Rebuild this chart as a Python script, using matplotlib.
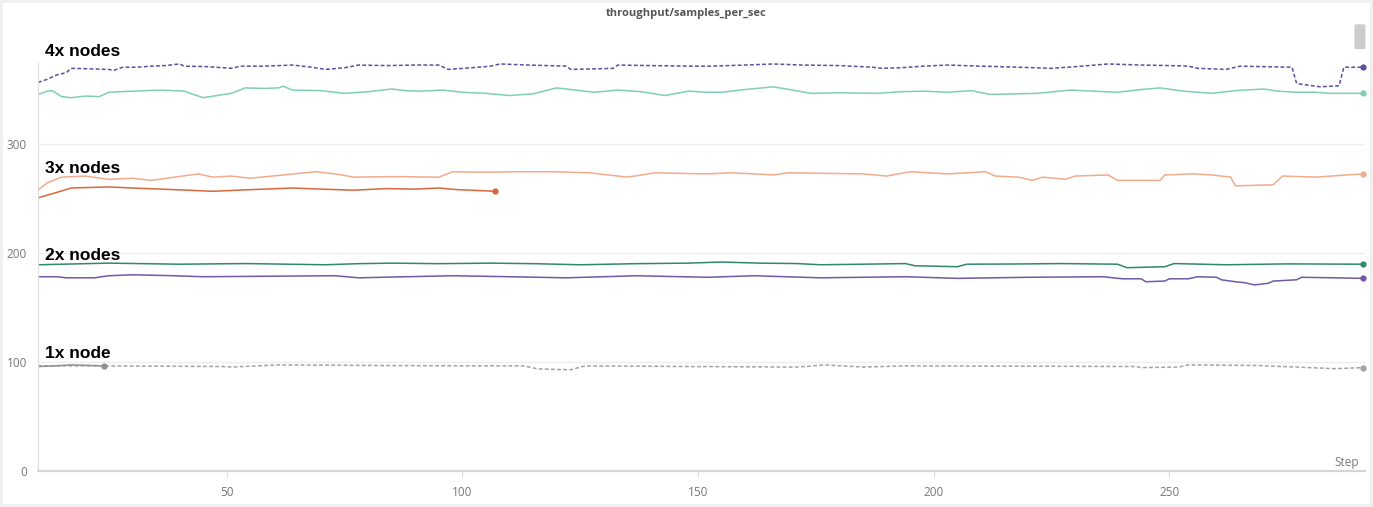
import matplotlib.pyplot as plt
from matplotlib.patches import FancyBboxPatch

# 4x nodes
steps_4x_a = [10, 12, 14, 16, 17, 21, 25, 26, 28, 31, 34, 37, 40, 41, 46, 51, 53, 58, 64, 68, 71, 75,
              78, 84, 90, 95, 97, 102, 106, 108, 114, 118, 122, 123, 128, 132, 133, 140, 148, 153,
              160, 166, 172, 180, 187, 189, 193, 198, 203, 210, 218, 225, 230, 237, 244, 250, 254,
              256, 262, 265, 270, 276, 277, 282, 286, 287, 291]
vals_4x_a = [357, 360, 364, 366, 370, 369.5, 369, 368, 371, 371, 372, 372.5, 374, 372, 371.5, 370, 372,
             372, 373, 371, 369, 370.5, 373, 372.5, 373, 373, 369, 370.5, 372, 374, 373, 372.5, 372,
             369, 369.5, 370, 373, 372.5, 372, 372, 373, 374, 373, 372.5, 371, 370, 370.5, 372, 373,
             372, 371, 370, 371.5, 374, 373, 372.5, 372, 370, 369, 372, 371.5, 371, 356, 353, 354,
             371, 371]
steps_4x_b = [10, 12, 13, 15, 17, 20, 23, 25, 30, 36, 41, 43, 45, 51, 54, 58, 61, 62, 64, 70, 75,
              80, 85, 88, 91, 96, 100, 105, 110, 115, 120, 124, 128, 133, 138, 143, 148, 152, 155,
              160, 166, 170, 174, 180, 188, 193, 198, 203, 208, 212, 217, 222, 229, 234, 239, 244,
              248, 253, 259, 264, 270, 273, 277, 281, 284, 291]
vals_4x_b = [346, 349, 349.5, 344, 343, 344.5, 344, 348, 349, 350, 349, 346, 343, 347, 352, 351.5, 352,
             353.5, 350, 349.5, 347, 348.5, 351, 349.5, 349, 350, 348, 347, 345, 346.5, 352, 350,
             348, 350, 348.5, 345, 349, 348, 348, 350.5, 353, 350, 347, 347.5, 347, 348.5, 349, 348,
             349.5, 346, 346.5, 347, 350, 349, 348, 350.5, 352, 349, 347, 349.5, 351, 349, 348, 348,
             347, 347]

# 3x nodes
steps_3x_a = [10, 12, 15, 20, 25, 30, 34, 39, 44, 47, 51, 55, 62, 69, 73, 77, 85, 95, 98, 105, 112,
              119, 127, 135, 141, 146, 152, 157, 162, 166, 169, 177, 185, 190, 195, 203, 211, 213,
              218, 221, 223, 228, 230, 237, 239, 248, 249, 255, 259, 263, 264, 272, 274, 281, 291]
vals_3x_a = [258, 265, 270, 271, 268, 269, 267, 270, 273, 270, 271, 269, 272, 275, 273, 270, 270.5, 270,
             275, 274.5, 275, 275, 274, 270, 274, 273.5, 273, 274, 273, 272, 274, 273.5, 273, 271,
             275, 273, 275, 271, 270, 267, 270, 268, 271, 272, 267, 267, 272, 273, 272, 270, 262,
             263, 271, 270, 273]
steps_3x_b = [10, 14, 17, 21, 25, 30, 36, 42, 47, 55, 64, 70, 77, 84, 90, 95, 99, 102, 107]
vals_3x_b = [251, 256, 260, 260.5, 261, 260, 259, 258, 257, 258.5, 260, 259, 258, 259.5, 259, 260,
             258.5, 258, 257]

# 2x nodes
steps_2x_a = [10, 25, 40, 54, 63, 71, 78, 85, 95, 106, 115, 125, 137, 148, 155, 163, 171, 176, 185,
              194, 196, 205, 207, 217, 227, 239, 241, 249, 251, 262, 275, 291]
vals_2x_a = [189.5, 191, 190, 190.6, 190, 189.5, 190.5, 191, 190.5, 191, 190.5, 189.5, 190.5, 191, 192,
             191, 190.6, 189.5, 190, 190.6, 188.6, 187.7, 190, 190.2, 190.6, 190, 186.8, 187.7, 190.6,
             189.5, 190.3, 190]
steps_2x_b = [10, 14, 16, 22, 25, 30, 38, 45, 60, 73, 78, 88, 98, 110, 122, 137, 152, 162, 176, 185,
              194, 205, 220, 236, 240, 244, 245, 249, 250, 254, 256, 260, 261, 264, 266, 268, 271,
              272, 277, 278, 285, 291]
vals_2x_b = [178.5, 178.5, 177.5, 177.5, 179.4, 180.3, 179.5, 178.5, 179, 179.4, 177.5, 178.5, 179.4,
             178.5, 177.5, 179.4, 178, 179.4, 177.5, 178, 178.5, 177, 178, 178.5, 176.6, 176.6, 173.9,
             174.5, 176.6, 176.6, 178.5, 178, 175.7, 173.9, 173, 171, 172.5, 174.5, 175.7, 178, 177.5,
             177]

# 1x node
steps_1x_a = [10, 24, 49, 51, 61, 80, 100, 113, 116, 123, 126, 148, 171, 177, 185, 194, 220, 243, 244,
              252, 254, 268, 277, 285, 291]
vals_1x_a = [96.6, 96.6, 96, 95.5, 97.5, 97, 96.6, 96.6, 93.8, 93, 96.6, 96, 95.5, 97.5, 95.5, 96.6,
             96.3, 96, 95, 95.5, 97.5, 97, 95.5, 94, 95]
steps_1x_b = [10, 13, 17, 21, 24]
vals_1x_b = [96, 96.5, 97.5, 97, 96.6]

y_ticks = [0, 100, 200, 300]
x_ticks = [50, 100, 150, 200, 250]
labels = ['4x nodes', '3x nodes', '2x nodes', '1x node']
label_y = [381, 274, 194, 104]

#%%

fig = plt.figure(figsize=(13.73, 5.07), dpi=100)
fig.patch.set_edgecolor('#f0f0f0')
fig.patch.set_linewidth(3)
ax = fig.add_axes([0.0277, 0.071, 0.9665, 0.805])

series = [
    (steps_4x_a, vals_4x_a, '#5a509e', '--'),
    (steps_4x_b, vals_4x_b, '#7fcfb4', '-'),
    (steps_3x_a, vals_3x_a, '#f2ab8c', '-'),
    (steps_3x_b, vals_3x_b, '#d8673c', '-'),
    (steps_2x_a, vals_2x_a, '#2f8a66', '-'),
    (steps_2x_b, vals_2x_b, '#7258a6', '-'),
    (steps_1x_a, vals_1x_a, '#a3a3a3', '--'),
    (steps_1x_b, vals_1x_b, '#8f8f8f', '-'),
]
for s, v, c, ls in series:
    line, = ax.plot(s, v, color=c, lw=1.1, ls=ls)
    if ls == '--':
        line.set_dashes((2.5, 1.5))
    ax.plot(s[-1], v[-1], 'o', color=c, ms=3.5, clip_on=False)

for t, y in zip(labels, label_y):
    ax.text(11.5, y, t, fontsize=12.5, fontweight='bold', family='Liberation Sans',
            color='black', va='baseline', clip_on=False)

ax.set_xlim(10, 291.5)
ax.set_ylim(0, 375)
ax.set_xticks(x_ticks)
ax.set_yticks(y_ticks)
ax.grid(axis='y', color='#eeeeee', lw=1)
ax.set_axisbelow(True)
for side in ['top', 'right']:
    ax.spines[side].set_visible(False)
ax.spines['left'].set_color('#dddddd')
ax.spines['bottom'].set_color('#d5d5d5')
ax.spines['bottom'].set_linewidth(1.6)
ax.tick_params(axis='y', length=0, pad=8, labelsize=8.5, labelcolor='#777777')
ax.tick_params(axis='x', length=4, color='#dddddd', pad=7, labelsize=8.5, labelcolor='#777777')
for lab in ax.get_xticklabels() + ax.get_yticklabels():
    lab.set_family('Open Sans')

ax.text(0.995, 0.005, 'Step', transform=ax.transAxes, ha='right', va='bottom',
        fontsize=8.5, color='#777777', family='Open Sans')
fig.text(0.5, 0.984, 'throughput/samples_per_sec', ha='center', va='top',
         fontsize=8, fontweight='bold', color='#555555', family='Open Sans')

# scrollbar in the top right corner
fig.patches.append(FancyBboxPatch((0.9885, 0.905), 0.004, 0.045, boxstyle='round,pad=0.002',
                                  transform=fig.transFigure, color='#cccccc', lw=0))

plt.savefig('out.png', dpi=100)
